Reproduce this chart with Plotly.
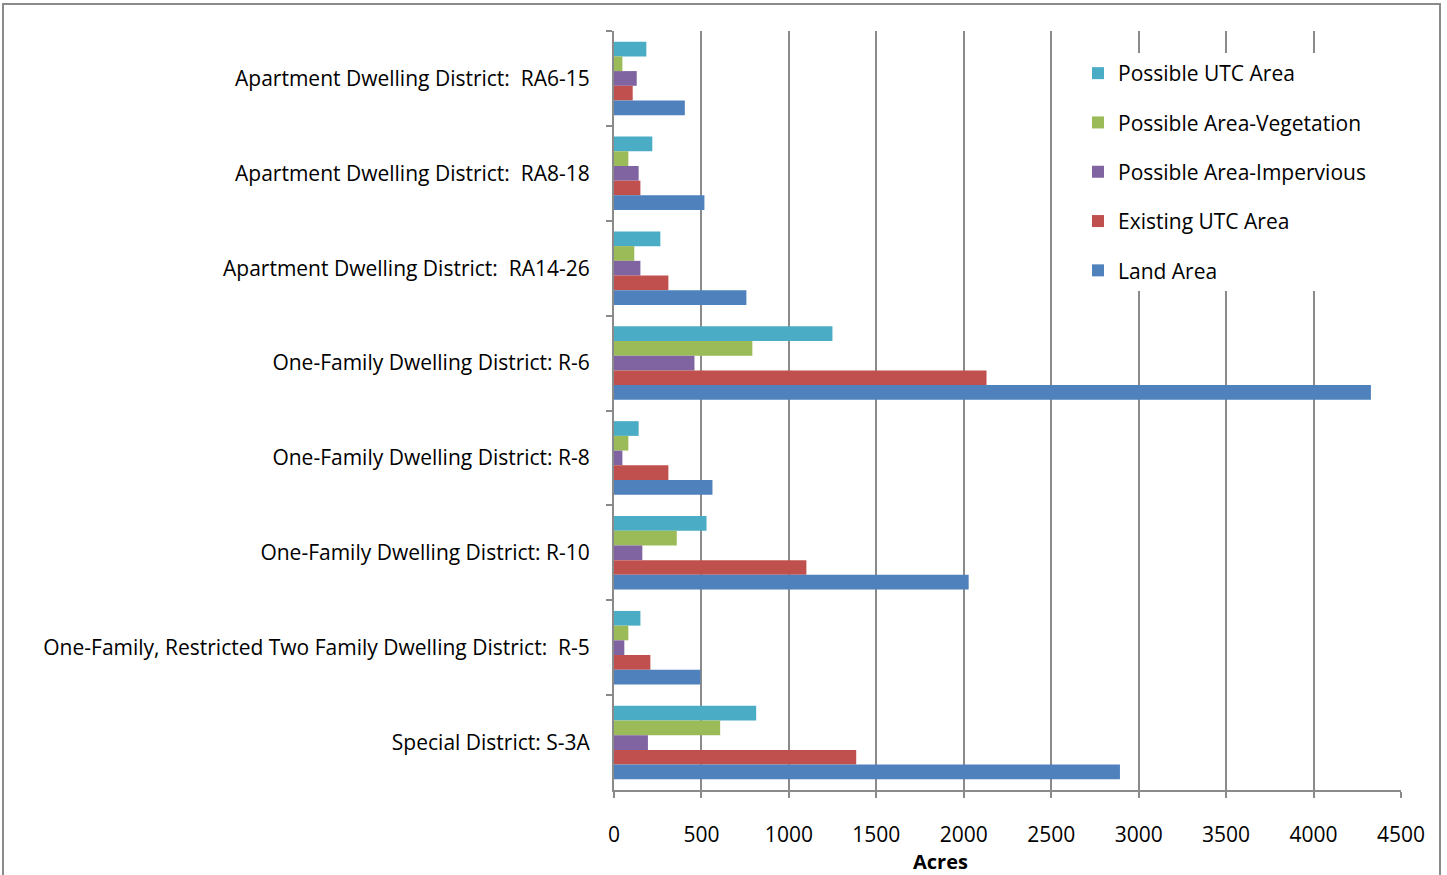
import plotly.graph_objects as go

categories = [
    "Apartment Dwelling District:  RA6-15",
    "Apartment Dwelling District:  RA8-18",
    "Apartment Dwelling District:  RA14-26",
    "One-Family Dwelling District: R-6",
    "One-Family Dwelling District: R-8",
    "One-Family Dwelling District: R-10",
    "One-Family, Restricted Two Family Dwelling District:  R-5",
    "Special District: S-3A",
]

possible_utc = [185, 219, 265, 1249, 141, 529, 151, 813]
possible_veg = [48, 82, 116, 791, 82, 359, 82, 607]
possible_imp = [130, 141, 151, 460, 48, 162, 59, 194]
existing_utc = [107, 151, 311, 2130, 311, 1100, 208, 1385]
land_area = [405, 517, 757, 4328, 563, 2028, 494, 2893]

series_names = [
    "Possible UTC Area",
    "Possible Area-Vegetation",
    "Possible Area-Impervious",
    "Existing UTC Area",
    "Land Area",
]
series_values = [possible_utc, possible_veg, possible_imp, existing_utc, land_area]
series_colors = ["#4BACC6", "#9BBB59", "#8064A2", "#C0504D", "#4F81BD"]

x_ticks = list(range(0, 4501, 500))

FONT = "Open Sans"
FS = 21
GRAY = "#8a8a8a"

fig = go.Figure()
for name, vals, col in zip(series_names, series_values, series_colors):
    fig.add_trace(go.Bar(
        y=categories, x=vals, name=name, orientation="h",
        marker=dict(color=col, line=dict(width=0)),
        legendgroup=name,
    ))

W, H = 1447, 875
L, R, T, B = 614, 46, 31, 85
pw, ph = W - L - R, H - T - B

def px(xp):
    return (xp - L) / pw

def py(yp):
    return (H - B - yp) / ph

fig.update_layout(
    width=W, height=H,
    margin=dict(l=L, r=R, t=T, b=B),
    paper_bgcolor="white", plot_bgcolor="white",
    barmode="group", bargap=0.225, bargroupgap=0,
    font=dict(family=FONT, size=FS, color="black"),
    showlegend=True,
    legend=dict(
        x=px(1078), y=py(53), xanchor="left", yanchor="top",
        bgcolor="white", borderwidth=0,
        font=dict(family=FONT, size=FS, color="black"),
        tracegroupgap=19, traceorder="grouped",
    ),
    xaxis=dict(
        range=[0, 4500], tickvals=x_ticks, ticktext=[str(v) for v in x_ticks],
        showgrid=True, gridcolor=GRAY, gridwidth=2,
        showline=True, linecolor=GRAY, linewidth=2,
        ticks="outside", ticklen=6, tickwidth=2, tickcolor=GRAY,
        zeroline=False, ticklabelstandoff=19,
        tickfont=dict(family=FONT, size=FS, color="black"),
    ),
    yaxis=dict(
        type="category", autorange="reversed",
        showgrid=False, showline=True, linecolor=GRAY, linewidth=2,
        ticks="outside", ticklen=6, tickwidth=2, tickcolor=GRAY,
        tickson="boundaries", ticklabelstandoff=18,
        tickfont=dict(family=FONT, size=FS, color="black"),
    ),
    annotations=[dict(
        text="<b>Acres</b>", x=px(940), y=py(861), xref="paper", yref="paper",
        xanchor="center", yanchor="middle", showarrow=False,
        font=dict(family=FONT, size=FS - 1, color="black"),
    )],
    shapes=[dict(
        type="rect", xref="paper", yref="paper",
        x0=px(3), x1=px(1440), y0=py(890), y1=py(4),
        line=dict(color=GRAY, width=2), fillcolor="rgba(0,0,0,0)", layer="below",
    )],
)

fig.write_html("out.html")
